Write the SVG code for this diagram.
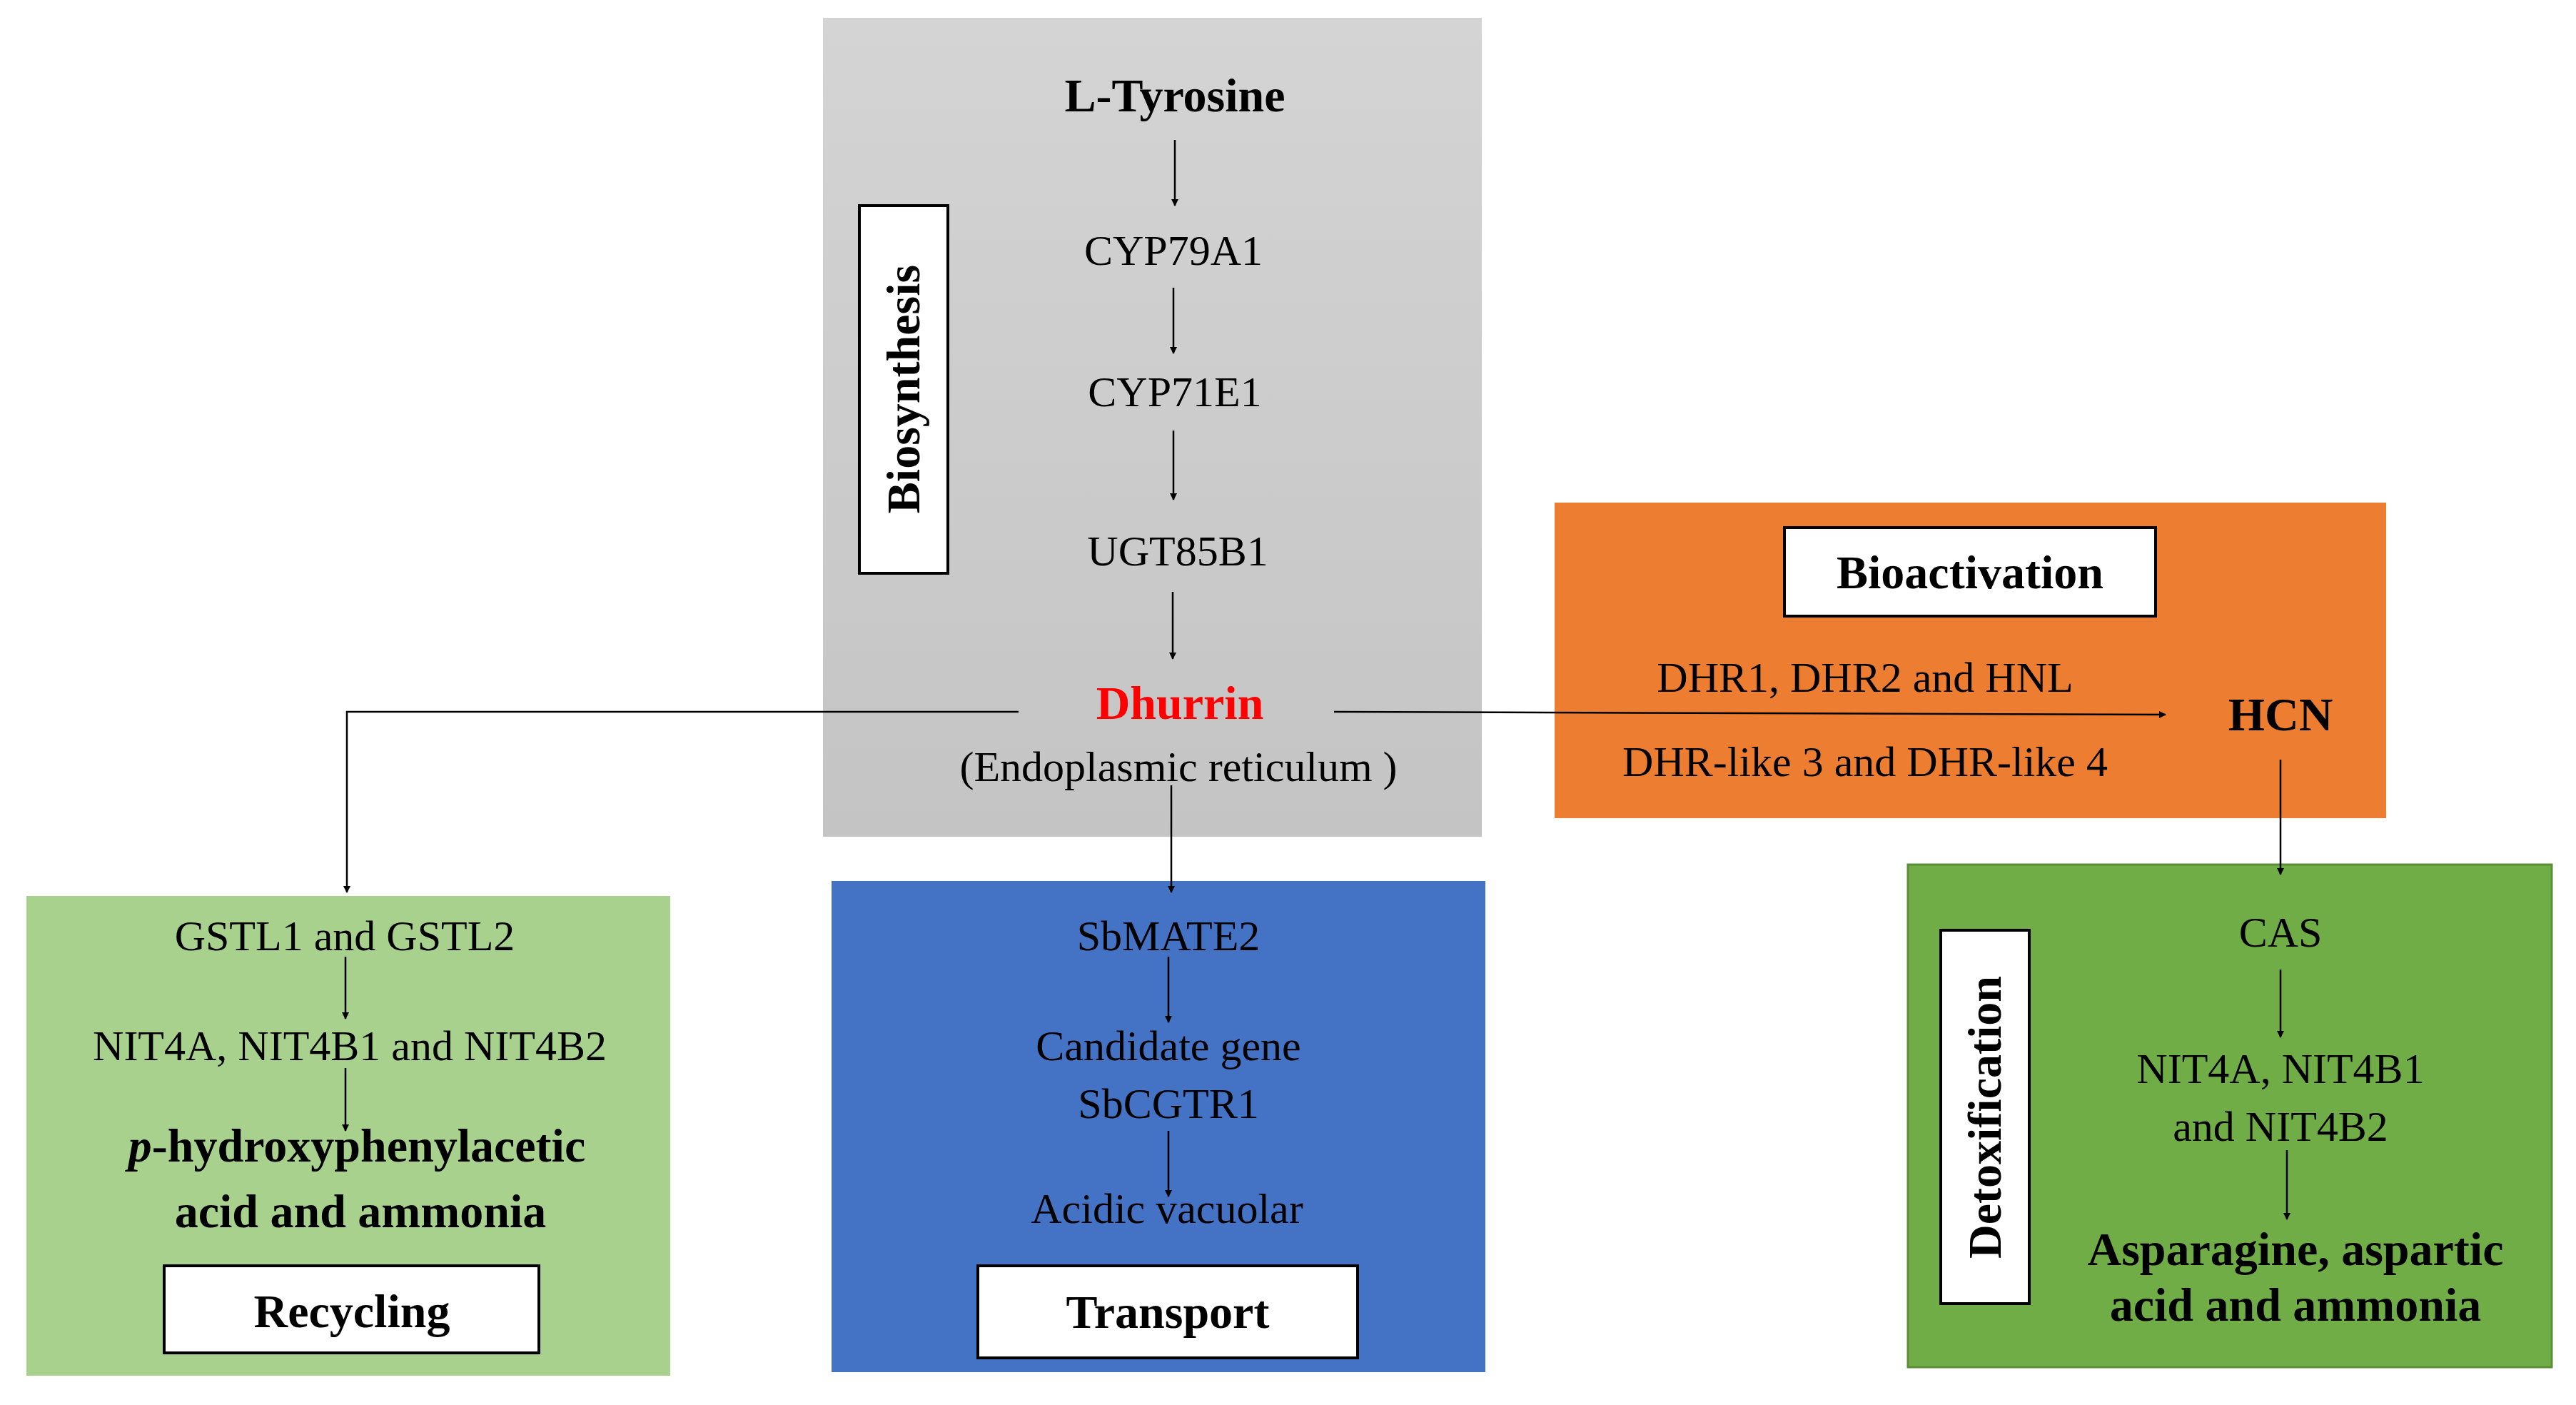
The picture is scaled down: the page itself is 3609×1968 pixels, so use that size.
<svg xmlns="http://www.w3.org/2000/svg" width="3609" height="1968" viewBox="0 0 3609 1968">
<defs>
<marker id="ah" markerWidth="10" markerHeight="10" refX="9" refY="5" orient="auto" markerUnits="userSpaceOnUse" viewBox="0 0 10 10"><path d="M0,0 L10,5 L0,10 z" fill="#000"/></marker>
<linearGradient id="gr" x1="0" y1="0" x2="0" y2="1"><stop offset="0" stop-color="#d4d4d4"/><stop offset="1" stop-color="#c4c4c4"/></linearGradient>
<style>
text{font-family:"Liberation Serif","Times New Roman",serif;text-anchor:middle;fill:#000}
.t{font-size:60px}
.b{font-size:66px;font-weight:bold}
.lab{fill:#fff;stroke:#000;stroke-width:4}
.c{stroke:#000;stroke-width:2.5;fill:none}
.a{stroke:#000;stroke-width:2.5;fill:none;marker-end:url(#ah)}
</style>
</defs>
<rect width="3609" height="1968" fill="#fff"/>
<g id="biosynthesis">
<rect x="1153" y="25" width="923" height="1147" fill="url(#gr)"/>
<rect class="lab" x="1204" y="288" width="124" height="515"/>
<text class="b" transform="translate(1288,545) rotate(-90)">Biosynthesis</text>
<text class="b" x="1646" y="156">L-Tyrosine</text>
<text class="t" x="1644" y="371">CYP79A1</text>
<text class="t" x="1646" y="569">CYP71E1</text>
<text class="t" x="1650" y="792">UGT85B1</text>
<text class="b" x="1653" y="1007" fill="#ff0000" style="fill:#ff0000">Dhurrin</text>
<text class="t" x="1651" y="1094">(Endoplasmic  reticulum )</text>
</g>
<g id="bioactivation">
<rect x="2178" y="704" width="1165" height="442" fill="#ed7d31"/>
<rect class="lab" x="2500" y="739" width="520" height="124"/>
<text class="b" x="2760" y="824">Bioactivation</text>
<text class="t" x="2613" y="969">DHR1, DHR2 and HNL</text>
<text class="t" x="2613" y="1087">DHR-like 3 and DHR-like 4</text>
<text class="b" x="3195" y="1023">HCN</text>
</g>
<g id="recycling">
<rect x="37" y="1255" width="902" height="672" fill="#a9d18e"/>
<text class="t" x="483" y="1331">GSTL1 and GSTL2</text>
<text class="t" x="490" y="1485">NIT4A, NIT4B1 and NIT4B2</text>
<text class="b" x="500" y="1627"><tspan font-style="italic">p</tspan>-hydroxyphenylacetic</text>
<text class="b" x="505" y="1719">acid and ammonia</text>
<rect class="lab" x="230" y="1773" width="525" height="122"/>
<text class="b" x="493" y="1859">Recycling</text>
</g>
<g id="transport">
<rect x="1165" y="1234" width="916" height="688" fill="#4472c4"/>
<text class="t" x="1637" y="1331">SbMATE2</text>
<text class="t" x="1637" y="1485">Candidate gene</text>
<text class="t" x="1637" y="1566">SbCGTR1</text>
<text class="t" x="1635" y="1713">Acidic vacuolar</text>
<rect class="lab" x="1370" y="1773" width="532" height="129"/>
<text class="b" x="1636" y="1860">Transport</text>
</g>
<g id="detoxification">
<rect x="2673" y="1211" width="902" height="704" fill="#70ad47" stroke="#5a8f38" stroke-width="3"/>
<rect class="lab" x="2719" y="1303" width="124" height="523"/>
<text class="b" transform="translate(2803,1565) rotate(-90)">Detoxification</text>
<text class="t" x="3195" y="1326">CAS</text>
<text class="t" x="3195" y="1517">NIT4A, NIT4B1</text>
<text class="t" x="3195" y="1598">and NIT4B2</text>
<text class="b" x="3216" y="1772">Asparagine, aspartic</text>
<text class="b" x="3216" y="1850">acid and ammonia</text>
</g>
<g id="connectors">
<line class="a" x1="1646" y1="196" x2="1646" y2="288"/>
<line class="a" x1="1644" y1="403" x2="1644" y2="495"/>
<line class="a" x1="1644" y1="603" x2="1644" y2="700"/>
<line class="a" x1="1643" y1="829" x2="1643" y2="923"/>
<polyline class="a" points="1427,997 486,997 486,1250"/>
<line class="a" x1="1869" y1="997" x2="3034" y2="1001"/>
<line class="a" x1="1641" y1="1100" x2="1641" y2="1250"/>
<line class="a" x1="3195" y1="1064" x2="3195" y2="1225"/>
<line class="a" x1="484" y1="1340" x2="484" y2="1427"/>
<line class="a" x1="484" y1="1496" x2="484" y2="1584"/>
<line class="a" x1="1637" y1="1340" x2="1637" y2="1432"/>
<line class="a" x1="1637" y1="1584" x2="1637" y2="1676"/>
<line class="a" x1="3195" y1="1358" x2="3195" y2="1453"/>
<line class="a" x1="3204" y1="1611" x2="3204" y2="1708"/>
</g>
</svg>
